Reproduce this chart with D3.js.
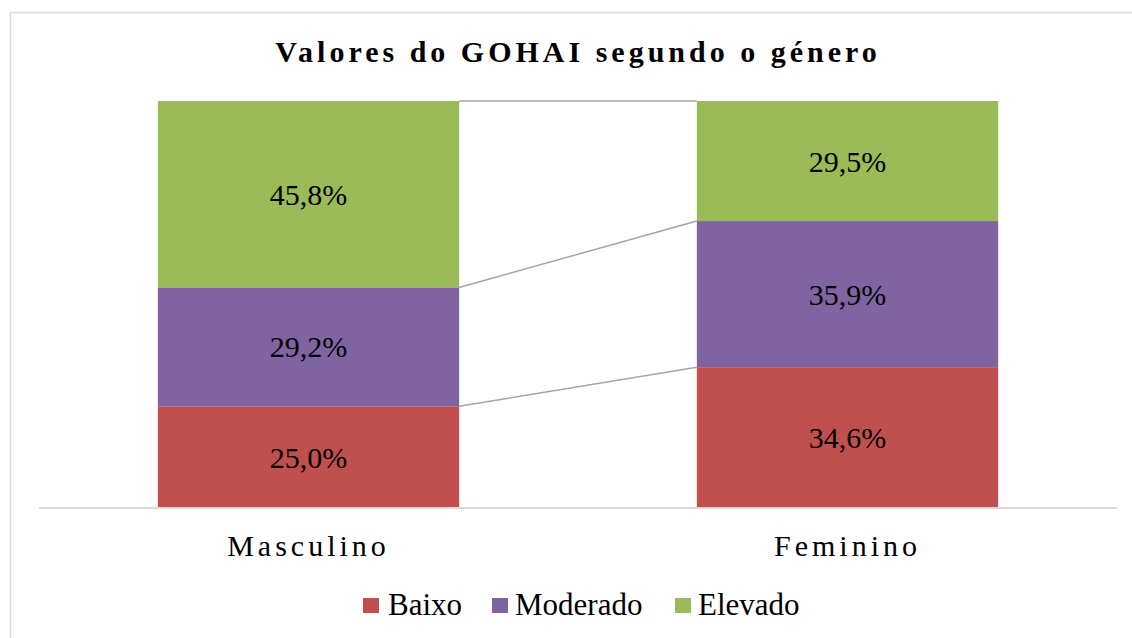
<!DOCTYPE html>
<html>
<head>
<meta charset="utf-8">
<script src="https://cdn.jsdelivr.net/npm/d3@7"></script>
</head>
<body style="margin:0">
<svg id="fig" width="1132" height="638"></svg>
<script>
const categories = ["Masculino", "Feminino"];
const seriesNames = ["Baixo", "Moderado", "Elevado"];
const baixo = [25.0, 34.6];
const moderado = [29.2, 35.9];
const elevado = [45.8, 29.5];
const colors = ["#C0504D", "#8064A2", "#9BBB59"];
const title = "Valores do GOHAI segundo o género";

const FONT = "'Liberation Serif'";
function serif(sel) {
  sel.each(function () { this.style.setProperty("font-family", FONT, "important"); });
  return sel;
}

const svg = d3.select("#fig");

// chart border (extends beyond the window on right and bottom)
svg.append("rect").attr("x", 10.5).attr("y", 12.5).attr("width", 1200).attr("height", 700)
  .attr("fill", "none").attr("stroke", "#D9D9D9").attr("stroke-width", 1.5);

const plot = { left: 39, right: 1117, top: 101, bottom: 508 };

const x = d3.scaleBand().domain(categories).range([plot.left, plot.right])
  .paddingInner(0.441).paddingOuter(0.2205);
const y = d3.scaleLinear().domain([0, 100]).range([plot.bottom, plot.top]);

const rows = categories.map((c, i) => ({ cat: c, Baixo: baixo[i], Moderado: moderado[i], Elevado: elevado[i] }));
const stack = d3.stack().keys(seriesNames)(rows);

// series lines
const bw = x.bandwidth();
stack.forEach((layer) => {
  const x1 = x(categories[0]) + bw, x2 = x(categories[1]);
  svg.append("line")
    .attr("x1", x1).attr("x2", x2)
    .attr("y1", y(layer[0][1])).attr("y2", y(layer[1][1]))
    .attr("stroke", "#A5A5A5").attr("stroke-width", 1.5);
});

// bars
stack.forEach((layer, si) => {
  svg.append("g").selectAll("rect").data(layer).join("rect")
    .attr("x", d => x(d.data.cat))
    .attr("width", bw)
    .attr("y", d => y(d[1]))
    .attr("height", d => y(d[0]) - y(d[1]))
    .attr("fill", colors[si]);
});

// data labels
const fmt = v => v.toFixed(1).replace(".", ",") + "%";
stack.forEach((layer, si) => {
  svg.append("g").selectAll("text").data(layer).join("text")
    .attr("x", d => x(d.data.cat) + bw / 2)
    .attr("y", d => (y(d[0]) + y(d[1])) / 2 + 10.5)
    .attr("text-anchor", "middle")
    .attr("font-size", 30)
    .text(d => fmt(d[1] - d[0]))
    .call(serif);
});

// axis baseline
const xAxis = d3.axisBottom(x).tickSize(0).tickPadding(0);
const ax = svg.append("g").attr("transform", `translate(0,${plot.bottom})`).call(xAxis)
  .attr("font-family", null);
ax.select(".domain").attr("stroke", "#D9D9D9").attr("stroke-width", 2)
  .attr("d", `M${plot.left},0H${plot.right}`);
ax.selectAll(".tick text")
  .attr("y", 48).attr("dy", 0)
  .attr("font-size", 30).attr("letter-spacing", 4)
  .attr("fill", "#000")
  .call(serif);

// title
svg.append("text").attr("x", 578).attr("y", 62).attr("text-anchor", "middle")
  .attr("font-size", 30).attr("font-weight", "bold").attr("letter-spacing", 4)
  .text(title)
  .call(serif);

// legend
const legendItems = [
  { name: seriesNames[0], sx: 363, tx: 388 },
  { name: seriesNames[1], sx: 492, tx: 515 },
  { name: seriesNames[2], sx: 675, tx: 698 }
];
const lg = svg.append("g");
legendItems.forEach((it, i) => {
  lg.append("rect").attr("x", it.sx).attr("y", 598).attr("width", 16).attr("height", 15).attr("fill", colors[i]);
  lg.append("text").attr("x", it.tx).attr("y", 615).attr("font-size", 31).text(it.name).call(serif);
});
</script>
</body>
</html>
